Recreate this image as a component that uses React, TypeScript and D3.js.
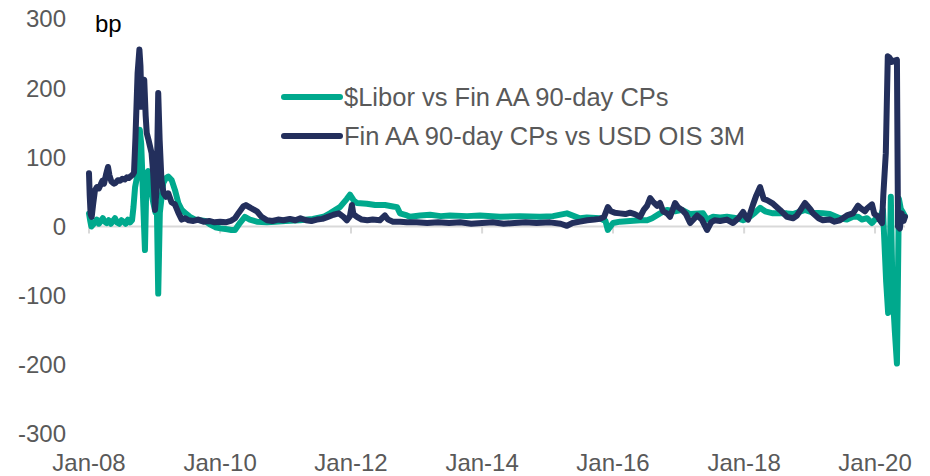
import React from "react";
import * as d3 from "d3";

const liborVsCp: [string, number][] = [
  ["2008-01-01",19],["2008-01-08",8],["2008-01-14",0],["2008-01-24",3],["2008-02-03",6],["2008-02-14",10],["2008-02-25",4],["2008-03-07",8],["2008-03-18",12],["2008-03-28",7],["2008-04-08",5],["2008-04-20",9],["2008-05-02",4],["2008-05-14",8],["2008-05-25",12],["2008-06-05",6],["2008-06-18",4],["2008-06-30",9],["2008-07-12",7],["2008-07-24",4],["2008-08-05",10],["2008-08-17",6],["2008-08-28",9],["2008-09-05",28],["2008-09-14",57],["2008-09-29",77],["2008-10-10",140],["2008-10-18",120],["2008-10-24",77],["2008-10-30",28],["2008-11-08",-34],["2008-11-17",77],["2008-11-26",80],["2008-12-06",60],["2008-12-24",35],["2009-01-06",20],["2009-01-14",19],["2009-01-21",-97],["2009-01-30",20],["2009-02-18",63],["2009-03-05",70],["2009-03-18",72],["2009-04-06",67],["2009-04-24",53],["2009-05-13",34],["2009-06-01",24],["2009-06-19",20],["2009-07-17",14],["2009-08-15",10],["2009-09-11",9],["2009-10-10",8],["2009-11-05",3],["2009-12-05",-1],["2010-01-10",-3],["2010-02-10",-4],["2010-03-05",-5],["2010-03-25",-5],["2010-04-21",5],["2010-05-19",14],["2010-06-16",10],["2010-07-25",7],["2010-09-19",6],["2010-11-03",7],["2011-01-01",8],["2011-03-21",9],["2011-06-02",11],["2011-08-01",14],["2011-09-05",19],["2011-10-31",28],["2011-12-09",40],["2011-12-26",46],["2012-01-15",38],["2012-02-03",34],["2012-03-29",33],["2012-05-15",31],["2012-07-08",31],["2012-08-22",29],["2012-09-14",28],["2012-09-30",19],["2012-11-08",16],["2012-11-25",14],["2013-01-20",16],["2013-03-17",17],["2013-05-15",15],["2013-07-06",16],["2013-10-09",15],["2013-12-20",16],["2014-04-11",14],["2014-07-31",15],["2014-11-20",14],["2015-01-31",15],["2015-04-19",19],["2015-06-30",12],["2015-08-08",13],["2015-10-20",12],["2015-11-20",8],["2015-12-03",-5],["2016-01-01",5],["2016-02-09",7],["2016-04-05",8],["2016-05-31",9],["2016-07-09",9],["2016-08-06",12],["2016-09-19",19],["2016-10-28",24],["2016-12-12",22],["2017-01-20",24],["2017-03-06",18],["2017-05-17",19],["2017-06-08",10],["2017-07-12",14],["2017-08-20",13],["2017-09-27",14],["2017-11-22",12],["2017-12-26",9],["2018-01-23",12],["2018-03-03",20],["2018-03-31",27],["2018-04-28",22],["2018-06-11",19],["2018-08-28",19],["2018-10-01",18],["2018-12-06",24],["2019-01-20",20],["2019-03-16",19],["2019-04-24",18],["2019-06-19",12],["2019-07-28",10],["2019-08-31",14],["2019-09-28",14],["2019-10-20",10],["2019-11-17",12],["2019-12-15",5],["2020-01-01",10],["2020-01-28",12],["2020-02-14",24],["2020-02-20",-10],["2020-03-03",-80],["2020-03-14",-125],["2020-03-20",-100],["2020-03-29",43],["2020-04-07",-90],["2020-04-20",-150],["2020-05-02",-198],["2020-05-13",40],["2020-05-24",25],["2020-06-05",20],["2020-06-16",15]
];

const cpVsOis: [string, number][] = [
  ["2008-01-01",77],["2008-01-05",45],["2008-01-10",18],["2008-01-16",14],["2008-01-24",32],["2008-02-03",52],["2008-02-14",57],["2008-02-25",55],["2008-03-05",60],["2008-03-15",66],["2008-03-25",62],["2008-04-05",75],["2008-04-16",86],["2008-04-24",74],["2008-05-05",65],["2008-05-18",62],["2008-05-28",63],["2008-06-10",67],["2008-06-22",66],["2008-07-05",69],["2008-07-18",68],["2008-07-30",71],["2008-08-10",70],["2008-08-22",73],["2008-09-01",75],["2008-09-08",78],["2008-09-16",128],["2008-09-28",222],["2008-10-08",256],["2008-10-14",232],["2008-10-20",173],["2008-10-27",210],["2008-11-04",212],["2008-11-12",160],["2008-11-18",135],["2008-11-28",125],["2008-12-06",116],["2008-12-15",106],["2008-12-24",77],["2009-01-03",24],["2009-01-12",53],["2009-01-21",193],["2009-01-29",125],["2009-02-08",67],["2009-02-20",48],["2009-03-05",43],["2009-03-18",48],["2009-04-05",35],["2009-04-24",32],["2009-05-13",20],["2009-06-01",10],["2009-06-19",12],["2009-07-10",9],["2009-08-05",8],["2009-09-01",10],["2009-10-01",7],["2009-11-01",8],["2009-12-01",6],["2010-01-01",7],["2010-02-01",6],["2010-03-01",8],["2010-03-25",12],["2010-04-15",20],["2010-05-10",29],["2010-05-25",31],["2010-06-20",27],["2010-07-25",22],["2010-08-20",14],["2010-09-20",9],["2010-10-20",8],["2010-11-20",10],["2010-12-20",9],["2011-01-25",11],["2011-02-25",9],["2011-03-25",12],["2011-04-25",9],["2011-05-25",8],["2011-06-25",10],["2011-07-25",11],["2011-08-25",14],["2011-09-25",17],["2011-10-25",19],["2011-11-20",14],["2011-12-09",9],["2011-12-26",15],["2012-01-06",31],["2012-01-14",18],["2012-02-03",14],["2012-03-01",10],["2012-04-01",9],["2012-05-01",10],["2012-06-10",9],["2012-07-08",16],["2012-07-25",10],["2012-08-22",7],["2012-10-01",7],["2012-11-08",6],["2013-01-01",6],["2013-03-01",5],["2013-05-01",6],["2013-07-01",5],["2013-09-01",6],["2013-11-01",4],["2014-01-01",5],["2014-03-01",6],["2014-05-01",4],["2014-07-01",5],["2014-09-01",6],["2014-11-01",5],["2015-01-15",6],["2015-03-15",4],["2015-04-19",1],["2015-05-20",5],["2015-07-01",7],["2015-08-10",9],["2015-09-20",10],["2015-10-20",11],["2015-11-12",14],["2015-12-03",28],["2015-12-20",22],["2016-01-10",20],["2016-02-09",19],["2016-03-10",18],["2016-04-05",20],["2016-05-01",18],["2016-05-31",14],["2016-06-20",24],["2016-07-09",30],["2016-07-26",41],["2016-08-10",36],["2016-09-03",30],["2016-09-19",34],["2016-10-06",22],["2016-10-28",19],["2016-11-14",14],["2016-12-12",34],["2016-12-28",28],["2017-01-20",24],["2017-02-10",18],["2017-03-06",5],["2017-04-14",16],["2017-05-10",10],["2017-06-08",-5],["2017-07-01",6],["2017-07-20",9],["2017-08-20",8],["2017-09-27",10],["2017-10-31",5],["2017-11-30",12],["2017-12-26",21],["2018-01-10",14],["2018-01-23",10],["2018-02-20",32],["2018-03-10",45],["2018-03-31",57],["2018-04-20",40],["2018-05-10",38],["2018-06-11",33],["2018-07-20",24],["2018-08-28",14],["2018-10-01",12],["2018-10-23",16],["2018-12-06",34],["2019-01-05",25],["2019-01-20",19],["2019-02-20",12],["2019-03-16",9],["2019-04-24",10],["2019-05-20",7],["2019-06-19",9],["2019-07-28",16],["2019-08-31",19],["2019-09-28",30],["2019-10-15",26],["2019-11-06",22],["2019-11-17",26],["2019-12-15",32],["2019-12-28",18],["2020-01-15",15],["2020-01-28",9],["2020-02-09",5],["2020-02-16",45],["2020-03-01",106],["2020-03-12",246],["2020-03-22",244],["2020-04-05",238],["2020-04-20",240],["2020-05-02",241],["2020-05-08",0],["2020-05-18",-3],["2020-05-28",19],["2020-06-08",8],["2020-06-16",14]
];

const yTicks = [-300, -200, -100, 0, 100, 200, 300];
const xTickYears = [2008, 2010, 2012, 2014, 2016, 2018, 2020];
const seriesNames = ["$Libor vs Fin AA 90-day CPs", "Fin AA 90-day CPs vs USD OIS 3M"];
const unitLabel = "bp";

const GREEN = "#00A98D";
const NAVY = "#232F5C";
const FONT = "'Liberation Sans', Arial, sans-serif";

export default function App() {
  const parse = d3.timeParse("%Y-%m-%d");
  const x = d3
    .scaleTime()
    .domain([new Date(2008, 0, 1), new Date(2020, 5, 16)])
    .range([89, 905]);
  const y = d3.scaleLinear().domain([-300, 300]).range([434, 19]);
  const line = d3
    .line<[string, number]>()
    .x((d) => x(parse(d[0]) as Date))
    .y((d) => y(d[1]));
  const fmt = d3.timeFormat("%b-%y");

  return (
    <svg
      width={930}
      height={476}
      style={{ position: "absolute", left: 0, top: 0, background: "#fff" }}
      fontFamily={FONT}
    >
      <line x1={x(new Date(2008, 0, 1))} x2={905} y1={y(0)} y2={y(0)} stroke="#D9D9D9" strokeWidth={2} />
      {xTickYears.map((yr) => (
        <line
          key={yr}
          x1={x(new Date(yr, 0, 1))}
          x2={x(new Date(yr, 0, 1))}
          y1={y(0)}
          y2={y(0) + 7}
          stroke="#D9D9D9"
          strokeWidth={2}
        />
      ))}
      {yTicks.map((t) => (
        <text key={t} x={66} y={y(t)} dy="0.35em" textAnchor="end" fontSize={24} fill="#595959">
          {t}
        </text>
      ))}
      {xTickYears.map((yr) => (
        <text key={yr} x={x(new Date(yr, 0, 1))} y={471} textAnchor="middle" fontSize={24} fill="#595959">
          {fmt(new Date(yr, 0, 1))}
        </text>
      ))}
      <text x={95} y={32} fontSize={24} fill="#000">
        {unitLabel}
      </text>
      <path d={line(liborVsCp) || ""} fill="none" stroke={GREEN} strokeWidth={6} strokeLinejoin="round" strokeLinecap="round" />
      <path d={line(cpVsOis) || ""} fill="none" stroke={NAVY} strokeWidth={6} strokeLinejoin="round" strokeLinecap="round" />
      {[GREEN, NAVY].map((c, i) => (
        <g key={i}>
          <line x1={284} x2={340} y1={97 + i * 39} y2={97 + i * 39} stroke={c} strokeWidth={6} strokeLinecap="round" />
          <text x={344} y={97 + i * 39} dy="0.35em" fontSize={25.5} fill="#595959">
            {seriesNames[i]}
          </text>
        </g>
      ))}
    </svg>
  );
}
